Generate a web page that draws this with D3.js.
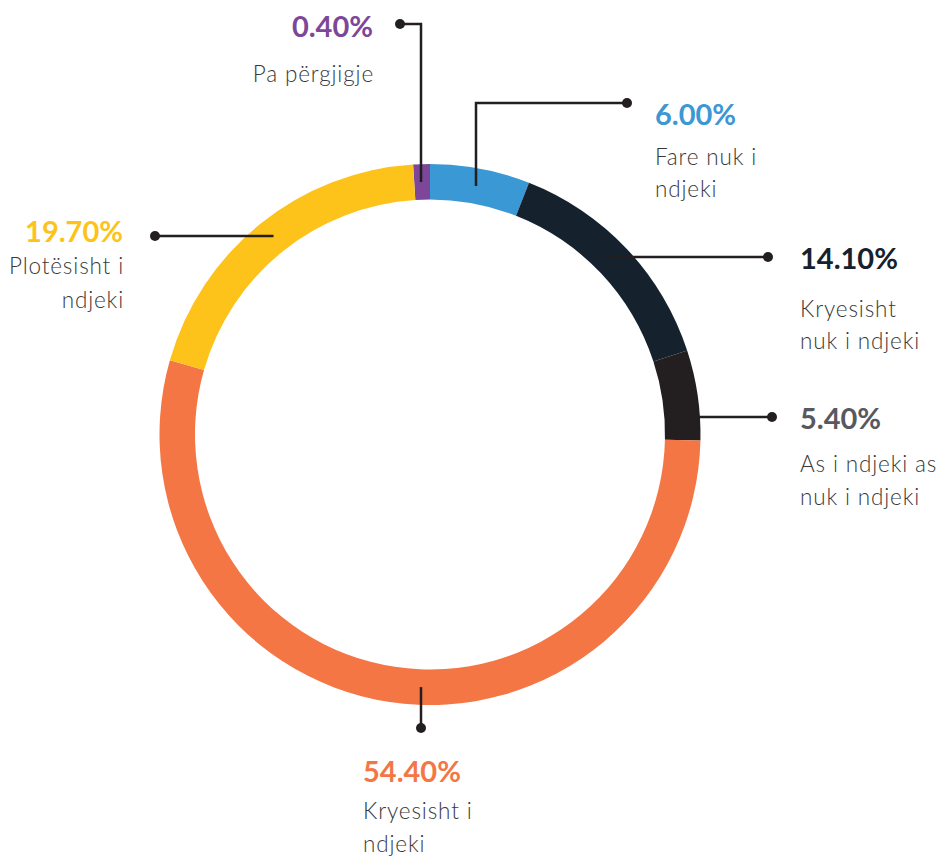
<!DOCTYPE html>
<html>
<head>
<meta charset="utf-8">
<script src="https://cdn.jsdelivr.net/npm/d3@7"></script>
<style>
  html, body { margin: 0; padding: 0; background: #ffffff; }
  svg { display: block; }
  .num { font-family: Lato, "Open Sans", sans-serif; font-weight: 700; font-size: 29px; }
  .lbl { font-family: Lato, "Open Sans", sans-serif; font-weight: 300; font-size: 22.5px; letter-spacing: 0.85px; fill: #38383a; }
</style>
</head>
<body>
<script>
// chart data
var categories = ["Pa përgjigje", "Fare nuk i ndjeki", "Kryesisht nuk i ndjeki",
                  "As i ndjeki as nuk i ndjeki", "Kryesisht i ndjeki", "Plotësisht i ndjeki"];
var values = [0.4, 6.0, 14.1, 5.4, 54.4, 19.7];
var valueLabels = ["0.40%", "6.00%", "14.10%", "5.40%", "54.40%", "19.70%"];
// label text broken into lines as in the original
var labelLines = [["Pa përgjigje"], ["Fare nuk i", "ndjeki"], ["Kryesisht", "nuk i ndjeki"],
                  ["As i ndjeki as", "nuk i ndjeki"], ["Kryesisht i", "ndjeki"], ["Plotësisht i", "ndjeki"]];
var colors = ["#7d4699", "#3a98d4", "#15222e", "#231f20", "#f47645", "#fdc31a"];
var numColors = ["#7d4699", "#3a98d4", "#15222e", "#58585e", "#f47645", "#fdc31a"];

var width = 940, height = 857;
var cx = 430, cy = 434.5, outerR = 270.5, innerR = 235;
var midR = (outerR + innerR) / 2;
var minShare = 1; // tiny slices drawn at least this wide so they stay visible

// where each callout goes (v = leaves the ring vertically, h = horizontally)
var layout = [
  {route: "v", lx: 421, dot: [400, 24],  anchor: "end",   tx: 373, ty: 37,  gap: 45, lh: 33},
  {route: "v", lx: 476, dot: [627, 103], anchor: "start", tx: 655, ty: 125, gap: 40, lh: 32},
  {route: "h", ly: 257, dot: [768, 257], anchor: "start", tx: 800, ty: 269, gap: 48, lh: 32},
  {route: "h", ly: 417, dot: [772, 417], anchor: "start", tx: 800, ty: 429, gap: 43, lh: 33},
  {route: "v", lx: 421, dot: [421, 728], anchor: "start", tx: 363, ty: 782, gap: 37, lh: 33},
  {route: "h", ly: 236, dot: [155, 236], anchor: "end",   tx: 123, ty: 242, gap: 32, lh: 34}
];

var svg = d3.select("body").append("svg")
    .attr("width", width)
    .attr("height", height);

var rows = values.map(function(v, i) { return {i: i, value: v}; });

// purple slice starts just left of 12 o'clock, blue begins at the top
var total = d3.sum(values, function(v) { return Math.max(v, minShare); });
var firstAngle = Math.max(values[0], minShare) / total * 2 * Math.PI;

var pie = d3.pie()
    .sort(null)
    .value(function(d) { return Math.max(d.value, minShare); })
    .startAngle(-firstAngle)
    .endAngle(2 * Math.PI - firstAngle);

var arc = d3.arc()
    .innerRadius(innerR)
    .outerRadius(outerR);

var arcs = pie(rows);

var g = svg.append("g").attr("transform", "translate(" + cx + "," + cy + ")");

g.selectAll("path.slice")
    .data(arcs)
  .enter().append("path")
    .attr("class", "slice")
    .attr("d", arc)
    .attr("fill", function(d) { return colors[d.data.i]; });

// leader lines
var lines = svg.append("g");
arcs.forEach(function(d) {
  var L = layout[d.data.i];
  var c = d3.arc().innerRadius(midR).outerRadius(midR).centroid(d);
  var pts;
  if (L.route === "v") {
    var dx = L.lx - cx;
    var ay = cy + (c[1] < 0 ? -1 : 1) * Math.sqrt(midR * midR - dx * dx);
    pts = [[L.lx, ay], [L.lx, L.dot[1]], L.dot];
  } else {
    var dy = L.ly - cy;
    var ax = cx + (c[0] < 0 ? -1 : 1) * Math.sqrt(midR * midR - dy * dy);
    pts = [[ax, L.ly], L.dot];
  }
  lines.append("path")
      .attr("d", d3.line()(pts))
      .attr("fill", "none")
      .attr("stroke", "#231f20")
      .attr("stroke-width", 2.5);
  lines.append("circle")
      .attr("cx", L.dot[0])
      .attr("cy", L.dot[1])
      .attr("r", 5)
      .attr("fill", "#231f20");
});

// labels
var labels = svg.append("g");
categories.forEach(function(cat, i) {
  var L = layout[i];
  labels.append("text")
      .attr("class", "num")
      .attr("x", L.tx)
      .attr("y", L.ty)
      .attr("text-anchor", L.anchor)
      .attr("fill", numColors[i])
      .text(valueLabels[i]);
  labelLines[i].forEach(function(line, k) {
    labels.append("text")
        .attr("class", "lbl")
        .attr("x", L.anchor === "end" ? L.tx + 1 : L.tx)
        .attr("y", L.ty + L.gap + k * L.lh)
        .attr("text-anchor", L.anchor)
        .text(line);
  });
});
</script>
</body>
</html>
